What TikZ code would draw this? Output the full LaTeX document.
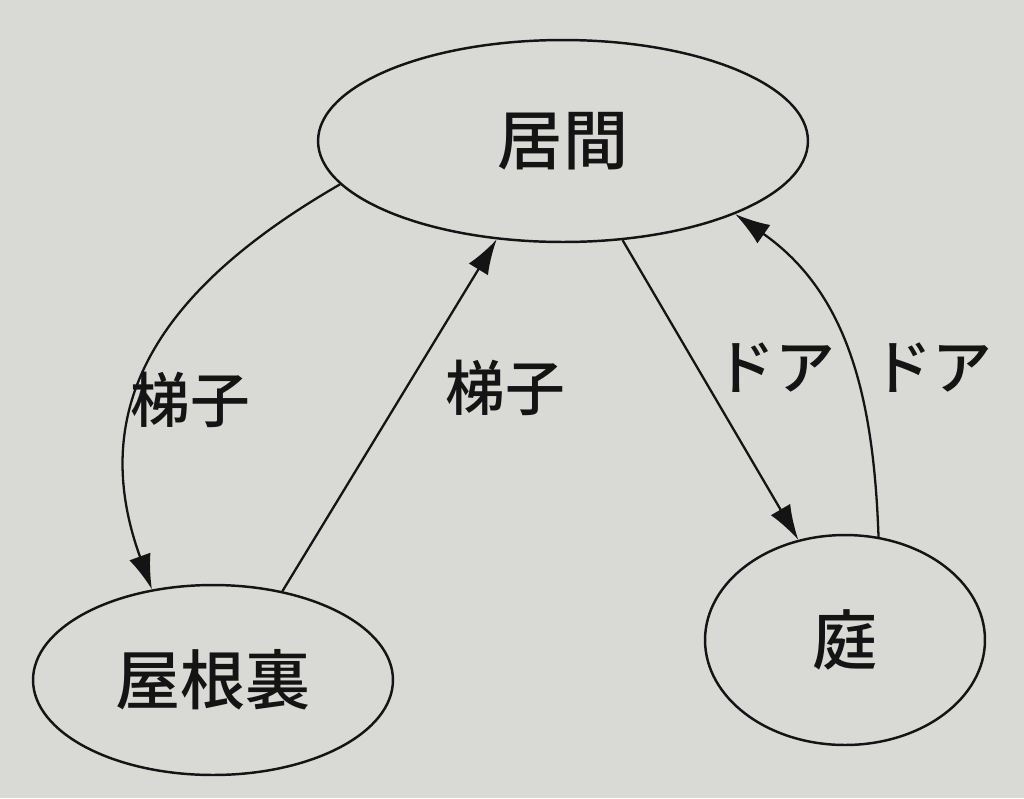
\documentclass[tikz,border=0pt]{standalone}
\usepackage{fontspec}
\newfontfamily\cjk{Noto Sans CJK JP Medium}
\usetikzlibrary{shapes.geometric,arrows.meta}
\definecolor{paper}{HTML}{D9DAD6}
\definecolor{ink}{HTML}{141414}
\tikzset{
  room/.style={draw=ink,line width=1.4pt,ellipse,inner sep=0pt,font=\cjk\fontsize{37}{40}\selectfont,text=ink},
  link/.style={draw=ink,line width=1.3pt,-{Latex[length=0.7cm,width=0.45cm]}},
  lab/.style={font=\cjk\fontsize{34}{38}\selectfont,text=ink}
}
\begin{document}
\begin{tikzpicture}[x=0.02cm,y=-0.02cm]
\fill[paper] (0,0) rectangle (1024,798);
\useasboundingbox (0,0) rectangle (1024,798);
\node[room,minimum width=9.8cm,minimum height=4.04cm] (liv) at (563,141) {居間};
\node[room,minimum width=7.2cm,minimum height=3.8cm] (att) at (213,680) {屋根裏};
\node[room,minimum width=5.6cm,minimum height=4.2cm] (gdn) at (845,640) {庭};
\draw[link] (liv.191) to[out=210,in=110,looseness=1.15] (att.124);
\draw[link] (att.52) -- (liv.236);
\draw[link] (liv.301) -- (gdn.115);
\draw[link] (gdn.72) to[out=92,in=-35] (liv.-23);
\node[lab] (l1) at (190,400) {梯子};
\node[lab] (l2) at (505,388) {梯子};
\node[lab] (l3) at (775,368) {ドア};
\node[lab] (l4) at (932,368) {ドア};
\end{tikzpicture}
\end{document}
